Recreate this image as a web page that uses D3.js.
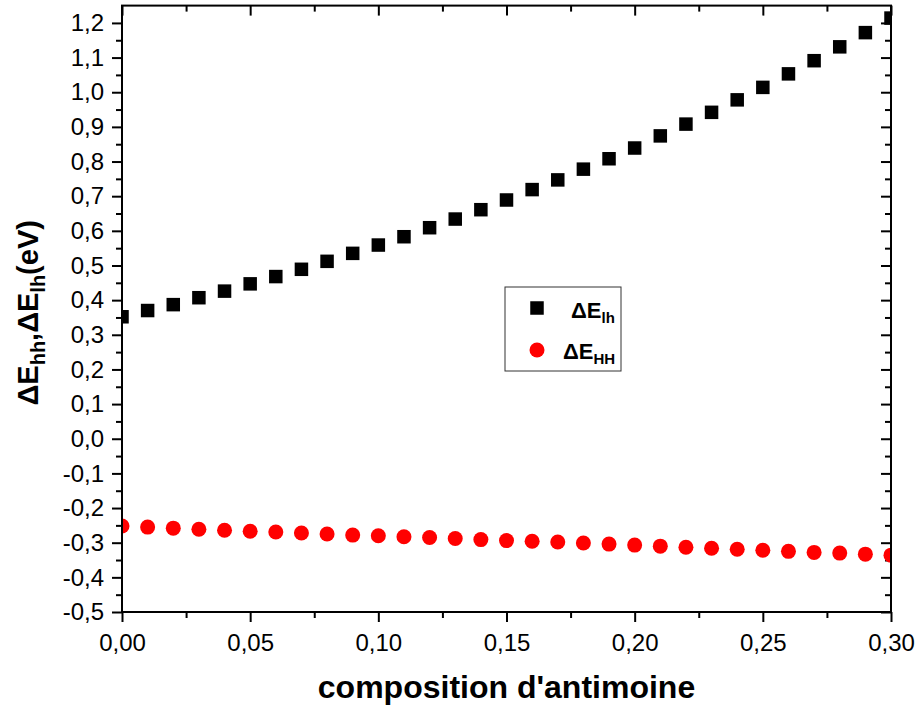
<!DOCTYPE html>
<html>
<head>
<meta charset="utf-8">
<script src="https://cdn.jsdelivr.net/npm/d3@7"></script>
<style>
  html, body { margin: 0; padding: 0; background: #fff; }
  svg { display: block; font-family: "Liberation Sans", Arial, sans-serif; }
</style>
</head>
<body>
<svg id="chart" width="922" height="713"></svg>
<script>
// Antimony composition (x) and band offsets (eV)
const composition = [0.00, 0.01, 0.02, 0.03, 0.04, 0.05, 0.06, 0.07, 0.08, 0.09,
                     0.10, 0.11, 0.12, 0.13, 0.14, 0.15, 0.16, 0.17, 0.18, 0.19,
                     0.20, 0.21, 0.22, 0.23, 0.24, 0.25, 0.26, 0.27, 0.28, 0.29, 0.30];
const deltaELh = [0.352, 0.370, 0.387, 0.407, 0.426, 0.447, 0.468, 0.489, 0.512, 0.535,
                  0.559, 0.583, 0.609, 0.634, 0.661, 0.689, 0.719, 0.747, 0.778, 0.808,
                  0.839, 0.874, 0.908, 0.942, 0.978, 1.014, 1.053, 1.091, 1.131, 1.172, 1.214];
const deltaEHH = [-0.252, -0.255, -0.258, -0.261, -0.264, -0.267, -0.269, -0.272, -0.275, -0.278,
                  -0.280, -0.283, -0.285, -0.288, -0.291, -0.294, -0.296, -0.298, -0.301, -0.304,
                  -0.307, -0.310, -0.313, -0.316, -0.319, -0.322, -0.325, -0.328, -0.330, -0.333, -0.336];
const xTicks = [0.00, 0.05, 0.10, 0.15, 0.20, 0.25, 0.30];
const xMinor = [0.025, 0.075, 0.125, 0.175, 0.225, 0.275];
const yTicks = [-0.5, -0.4, -0.3, -0.2, -0.1, 0.0, 0.1, 0.2, 0.3, 0.4, 0.5, 0.6, 0.7, 0.8, 0.9, 1.0, 1.1, 1.2];
const yMinor = [-0.45, -0.35, -0.25, -0.15, -0.05, 0.05, 0.15, 0.25, 0.35, 0.45, 0.55, 0.65, 0.75, 0.85, 0.95, 1.05, 1.15];

const svg = d3.select("#chart");
const pLeft = 122, pRight = 891, pTop = 5.6, pBottom = 612;

const x = d3.scaleLinear().domain([0, 0.30]).range([pLeft, pRight]);
const y = d3.scaleLinear().domain([-0.5, 1.25]).range([pBottom, pTop]);

const loc = d3.formatLocale({decimal: ",", thousands: ".", grouping: [3], currency: ["", ""], minus: "-"});
const fx = loc.format(".2f"), fy = loc.format(".1f");

svg.append("defs").append("clipPath").attr("id", "plotclip")
  .append("rect").attr("x", pLeft).attr("y", pTop).attr("width", pRight - pLeft).attr("height", pBottom - pTop);

function styleAxis(g) {
  g.select(".domain").remove();
  g.selectAll("line").attr("stroke", "#000").attr("stroke-width", 2);
  g.selectAll("text").attr("fill", "#000").attr("font-size", 24);
}

// bottom axis with labels
svg.append("g").attr("transform", `translate(0,${pBottom})`)
  .call(d3.axisBottom(x).tickValues(xTicks).tickFormat(fx).tickSize(10).tickPadding(12))
  .call(styleAxis);
svg.append("g").attr("transform", `translate(0,${pBottom})`)
  .call(d3.axisBottom(x).tickValues(xMinor).tickFormat("").tickSize(6))
  .call(styleAxis);
// top axis, inward ticks
svg.append("g").attr("transform", `translate(0,${pTop})`)
  .call(d3.axisTop(x).tickValues(xTicks).tickFormat("").tickSize(-10))
  .call(styleAxis);
svg.append("g").attr("transform", `translate(0,${pTop})`)
  .call(d3.axisTop(x).tickValues(xMinor).tickFormat("").tickSize(-6))
  .call(styleAxis);
// left axis with labels
svg.append("g").attr("transform", `translate(${pLeft},0)`)
  .call(d3.axisLeft(y).tickValues(yTicks).tickFormat(fy).tickSize(10).tickPadding(8))
  .call(styleAxis);
svg.append("g").attr("transform", `translate(${pLeft},0)`)
  .call(d3.axisLeft(y).tickValues(yMinor).tickFormat("").tickSize(6))
  .call(styleAxis);
// right axis, inward ticks
svg.append("g").attr("transform", `translate(${pRight},0)`)
  .call(d3.axisRight(y).tickValues(yTicks).tickFormat("").tickSize(-10))
  .call(styleAxis);
svg.append("g").attr("transform", `translate(${pRight},0)`)
  .call(d3.axisRight(y).tickValues(yMinor).tickFormat("").tickSize(-6))
  .call(styleAxis);

// data markers
const plot = svg.append("g").attr("clip-path", "url(#plotclip)");
const sq = 13.5;
plot.selectAll("rect.lh").data(composition).join("rect")
  .attr("class", "lh")
  .attr("x", (d) => x(d) - sq / 2)
  .attr("y", (d, i) => y(deltaELh[i]) - sq / 2)
  .attr("width", sq).attr("height", sq)
  .attr("fill", "#000");
plot.selectAll("circle.hh").data(composition).join("circle")
  .attr("class", "hh")
  .attr("cx", (d) => x(d))
  .attr("cy", (d, i) => y(deltaEHH[i]))
  .attr("r", 7.5)
  .attr("fill", "#ff0000");

// frame
svg.append("rect").attr("x", pLeft).attr("y", pTop).attr("width", pRight - pLeft).attr("height", pBottom - pTop)
  .attr("fill", "none").attr("stroke", "#000").attr("stroke-width", 2);

// axis titles
svg.append("text").attr("x", (pLeft + pRight) / 2).attr("y", 698)
  .attr("text-anchor", "middle").attr("font-size", 32).attr("font-weight", "bold")
  .text("composition d'antimoine");

const yt = svg.append("text")
  .attr("transform", `translate(38,${(pTop + pBottom) / 2 + 4}) rotate(-90)`)
  .attr("text-anchor", "middle").attr("font-size", 29).attr("font-weight", "bold");
yt.append("tspan").text("ΔE");
yt.append("tspan").attr("font-size", 20).attr("dy", 7).text("hh");
yt.append("tspan").attr("dy", -7).text(",ΔE");
yt.append("tspan").attr("font-size", 20).attr("dy", 7).text("lh");
yt.append("tspan").attr("dy", -7).text("(eV)");

// legend
const lg = svg.append("g");
lg.append("rect").attr("x", 505).attr("y", 287).attr("width", 116).attr("height", 84)
  .attr("fill", "#fff").attr("stroke", "#333").attr("stroke-width", 1);
lg.append("rect").attr("x", 537 - sq / 2).attr("y", 308 - sq / 2).attr("width", sq).attr("height", sq).attr("fill", "#000");
lg.append("circle").attr("cx", 537).attr("cy", 350).attr("r", 7.5).attr("fill", "#ff0000");
const l1 = lg.append("text").attr("x", 571).attr("y", 318).attr("font-size", 22).attr("font-weight", "bold");
l1.append("tspan").text("ΔE");
l1.append("tspan").attr("font-size", 15).attr("dy", 5).text("lh");
const l2 = lg.append("text").attr("x", 563).attr("y", 359).attr("font-size", 22).attr("font-weight", "bold");
l2.append("tspan").text("ΔE");
l2.append("tspan").attr("font-size", 15).attr("dy", 5).text("HH");
</script>
</body>
</html>
